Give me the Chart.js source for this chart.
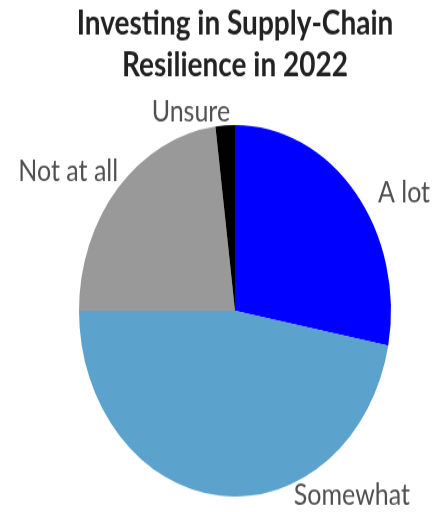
<!DOCTYPE html>
<html>
<head>
<meta charset="utf-8">
<script src="https://cdn.jsdelivr.net/npm/chart.js@4.4.1/dist/chart.umd.min.js"></script>
<style>
  html, body { margin: 0; padding: 0; background: #fff; }
  body { width: 436px; height: 512px; overflow: hidden; }
  #wrap {
    width: 436px;
    height: 430px;
    transform: scale(1, 1.1907);
    transform-origin: 0 0;
  }
</style>
</head>
<body>
<div id="wrap"><canvas id="pieChart"></canvas></div>
<script>
const categories = ["A lot", "Somewhat", "Not at all", "Unsure"];
const shares = [28, 47, 23, 2];
const sliceColors = ["#0000ff", "#5ba2cc", "#999999", "#000000"];
const titleLines = ["Investing in Supply-Chain", "Resilience in 2022"];

// where each outside label sits: angle from 12 o'clock (deg), distance in radii
const labelSpots = [
  { angle: 59.6, dist: 1.256 },
  { angle: 143, dist: 1.245 },
  { angle: 305, dist: 1.305 },
  { angle: 345.2, dist: 1.107 },
];

const outsideLabels = {
  id: "outsideLabels",
  afterDraw(chart) {
    const ctx = chart.ctx;
    const arcs = chart.getDatasetMeta(0).data;
    ctx.save();
    ctx.font = "25px Lato";
    ctx.fillStyle = "#505050";
    ctx.textAlign = "center";
    ctx.textBaseline = "middle";
    arcs.forEach((arc, i) => {
      const spot = labelSpots[i];
      const a = (spot.angle - 90) * Math.PI / 180;
      const r = arc.outerRadius * spot.dist;
      ctx.fillText(categories[i], arc.x + Math.cos(a) * r, arc.y + Math.sin(a) * r);
    });
    ctx.restore();
  },
};

document.addEventListener("DOMContentLoaded", function () {
  Chart.defaults.font.family = "Lato";
  const ctx = document.getElementById("pieChart").getContext("2d");
  new Chart(ctx, {
    type: "pie",
    data: {
      labels: categories,
      datasets: [
        {
          data: shares,
          backgroundColor: sliceColors,
          borderWidth: 0,
        },
      ],
    },
    options: {
      responsive: true,
      maintainAspectRatio: false,
      animation: false,
      layout: {
        padding: { top: 0, left: 40, right: 6, bottom: 13 },
      },
      plugins: {
        legend: { display: false },
        tooltip: { enabled: false },
        title: {
          display: true,
          text: titleLines,
          color: "#222222",
          font: { family: "Lato", size: 28, weight: "bold", lineHeight: 1.25 },
          padding: { top: 2, bottom: 33 },
        },
      },
    },
    plugins: [outsideLabels],
  });
});
</script>
</body>
</html>
